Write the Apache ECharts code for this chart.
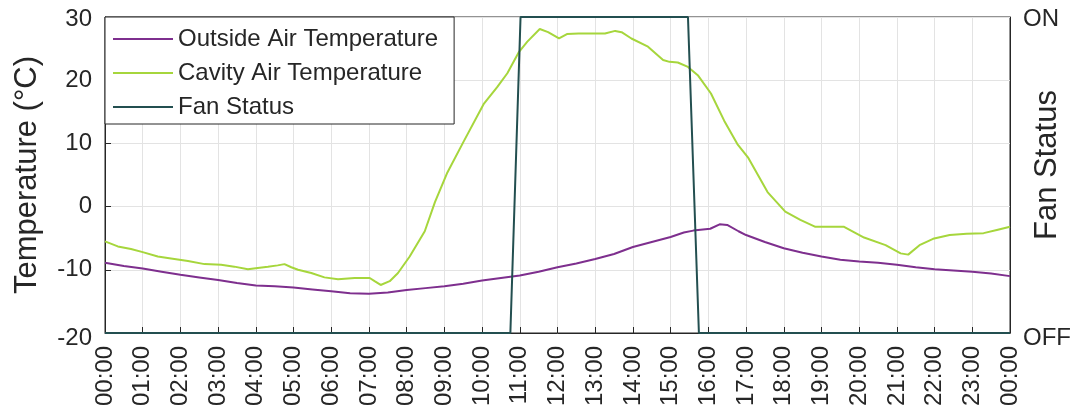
<!DOCTYPE html>
<html>
<head>
<meta charset="utf-8">
<script src="https://cdn.jsdelivr.net/npm/echarts@6/dist/echarts.min.js"></script>
<style>
html,body{margin:0;padding:0;background:#fff;}
#chart{width:1073px;height:415px;}
</style>
</head>
<body>
<div id="chart"></div>
<script>
var hourLabels = ['00:00','01:00','02:00','03:00','04:00','05:00','06:00','07:00','08:00','09:00','10:00','11:00','12:00','13:00','14:00','15:00','16:00','17:00','18:00','19:00','20:00','21:00','22:00','23:00','00:00'];
var fanLabels = ['OFF','ON'];

var outsideTime = [0,0.5,1,1.5,2,2.5,3,3.5,4,4.5,5,5.5,6,6.5,7,7.5,8,8.5,9,9.5,10,10.5,11,11.5,12,12.5,13,13.5,14,14.5,15,15.35,15.6,16.05,16.3,16.5,16.8,17,17.5,18,18.5,19,19.5,20,20.5,21,21.5,22,22.5,23,23.5,24];
var outsideTemp = [-8.9,-9.4,-9.8,-10.3,-10.8,-11.2,-11.6,-12.1,-12.5,-12.6,-12.8,-13.1,-13.4,-13.7,-13.8,-13.6,-13.2,-12.9,-12.6,-12.2,-11.7,-11.3,-10.9,-10.3,-9.6,-9.0,-8.3,-7.5,-6.4,-5.6,-4.8,-4.1,-3.8,-3.5,-2.8,-2.9,-3.9,-4.5,-5.6,-6.6,-7.3,-7.9,-8.4,-8.7,-8.9,-9.2,-9.6,-9.9,-10.1,-10.3,-10.6,-11.0];

var cavityTime = [0,0.34,0.69,1.0,1.4,1.75,2.2,2.64,3.08,3.43,3.79,4.05,4.32,4.58,4.76,4.94,5.12,5.47,5.82,6.18,6.62,7.02,7.15,7.31,7.55,7.77,8.08,8.48,8.75,9.08,9.52,10.05,10.4,10.67,10.98,11.2,11.53,11.75,12.04,12.25,12.56,13.0,13.26,13.53,13.7,13.96,14.4,14.8,14.97,15.19,15.46,15.72,16.07,16.42,16.77,17.05,17.57,18.04,18.44,18.84,19.6,20.13,20.7,21.1,21.3,21.6,21.96,22.4,22.85,23.3,23.65,24];
var cavityTemp = [-5.5,-6.3,-6.7,-7.2,-7.9,-8.2,-8.6,-9.1,-9.2,-9.5,-9.9,-9.7,-9.5,-9.3,-9.1,-9.6,-10.0,-10.5,-11.2,-11.5,-11.3,-11.3,-11.8,-12.4,-11.8,-10.5,-7.9,-3.9,0.7,5.4,10.4,16.3,18.9,21.1,24.5,26.1,28.1,27.6,26.6,27.3,27.4,27.4,27.4,27.8,27.6,26.6,25.3,23.2,22.9,22.8,22.1,20.8,17.9,13.6,9.9,7.8,2.3,-0.8,-2.1,-3.2,-3.2,-4.9,-6.1,-7.4,-7.6,-6.1,-5.1,-4.5,-4.3,-4.2,-3.7,-3.2];

var fanTime = [0,10.75,11.02,15.46,15.75,24];
var fanState = [0,0,1,1,0,0];

function pairs(xs, ys){ return xs.map(function(x,i){ return [x, ys[i]]; }); }

var FONT = '"Liberation Sans", Arial, Helvetica, sans-serif';
var TXT = '#262626';
var edgeRich = {
  lo: {padding: [10, 0, 0, 0], fontSize: 24, color: TXT, fontFamily: FONT},
  hi: {padding: [4, 0, 0, 0], fontSize: 24, color: TXT, fontFamily: FONT}
};

var chart = echarts.init(document.getElementById('chart'), null, {renderer:'canvas'});
chart.setOption({
  animation: false,
  backgroundColor: '#fff',
  textStyle: {fontFamily: FONT},
  grid: {left: 105, right: 63, top: 17, bottom: 82, containLabel: false, outerBoundsMode: 'none',
    show: true, borderColor: '#262626', borderWidth: 1, backgroundColor: 'transparent'},
  legend: {
    left: 105, top: 17, orient: 'vertical',
    backgroundColor: '#fff', borderColor: '#262626', borderWidth: 1,
    padding: [10, 16, 5, 8],
    itemWidth: 60, itemHeight: 2, itemGap: 10, itemTextGap: 7,
    icon: 'rect',
    textStyle: {fontSize: 24, color: TXT, fontFamily: FONT},
    data: ['Outside Air Temperature','Cavity Air Temperature','Fan Status']
  },
  xAxis: {
    type: 'value', min: 0, max: 24, interval: 1,
    axisLine: {show: true, onZero: false, lineStyle: {color: '#262626', width: 1}},
    axisTick: {show: true, inside: true, length: 6, lineStyle: {color: '#262626'}},
    splitLine: {show: true, lineStyle: {color: '#e3e3e3', width: 1}},
    axisLabel: {rotate: 90, margin: 13, fontSize: 24, color: TXT, fontFamily: FONT,
      formatter: function(v){ return hourLabels[Math.round(v)]; }}
  },
  yAxis: [{
    type: 'value', min: -20, max: 30, interval: 10, position: 'left',
    name: 'Temperature (°C)', nameLocation: 'middle', nameGap: 62, nameMoveOverlap: false,
    nameTextStyle: {fontSize: 31, color: TXT, fontFamily: FONT},
    axisLine: {show: true, onZero: false, lineStyle: {color: '#262626', width: 1}},
    axisTick: {show: true, inside: true, length: 6, lineStyle: {color: '#262626'}},
    splitLine: {show: true, lineStyle: {color: '#e3e3e3', width: 1}},
    axisLabel: {margin: 13, fontSize: 24, color: TXT, fontFamily: FONT, rich: edgeRich,
      formatter: function(v){
        if (v === -20) return '{lo|' + v + '}';
        if (v === 30) return '{hi|' + v + '}';
        return String(v);
      }}
  },{
    type: 'value', min: 0, max: 1, interval: 1, position: 'right',
    name: 'Fan Status', nameLocation: 'middle', nameGap: 22, nameRotate: 90, nameMoveOverlap: false,
    nameTextStyle: {fontSize: 31, color: TXT, fontFamily: FONT, padding: [0, 0, 0, 20]},
    axisLine: {show: true, onZero: false, lineStyle: {color: '#262626', width: 1}},
    axisTick: {show: false},
    splitLine: {show: false},
    axisLabel: {margin: 13, fontSize: 24, color: TXT, fontFamily: FONT, rich: edgeRich,
      formatter: function(v){
        var i = Math.round(v);
        return (i === 0 ? '{lo|' : '{hi|') + fanLabels[i] + '}';
      }}
  }],
  series: [{
    name: 'Outside Air Temperature', type: 'line', yAxisIndex: 0,
    data: pairs(outsideTime, outsideTemp), symbol: 'none',
    color: '#7E2F8E', lineStyle: {width: 2, color: '#7E2F8E'}, z: 3
  },{
    name: 'Cavity Air Temperature', type: 'line', yAxisIndex: 0,
    data: pairs(cavityTime, cavityTemp), symbol: 'none',
    color: '#A6D63C', lineStyle: {width: 2, color: '#A6D63C'}, z: 3
  },{
    name: 'Fan Status', type: 'line', yAxisIndex: 1,
    data: pairs(fanTime, fanState), symbol: 'none', clip: false,
    color: '#234F50', lineStyle: {width: 2, color: '#234F50'}, z: 4
  }]
});
</script>
</body>
</html>
